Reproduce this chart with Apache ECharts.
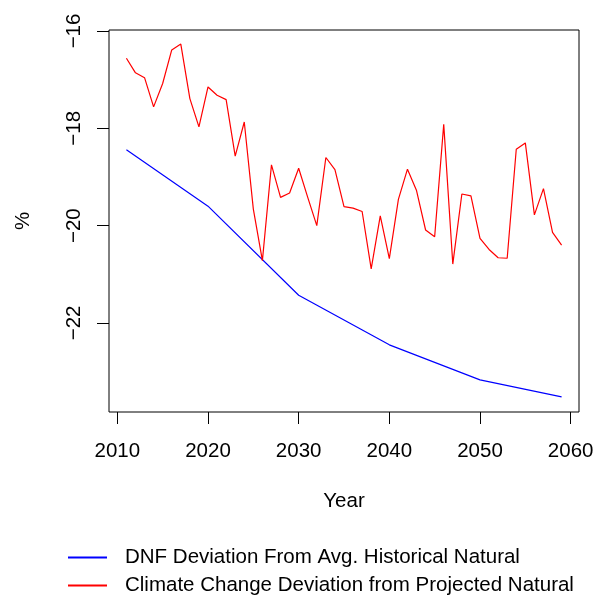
<!DOCTYPE html>
<html>
<head>
<meta charset="utf-8">
<script src="https://cdn.jsdelivr.net/npm/echarts@6/dist/echarts.min.js"></script>
<style>
html,body{margin:0;padding:0;background:#fff;}
#chart{width:597px;height:598px;}
</style>
</head>
<body>
<div id="chart"></div>
<script>
// ---- data ----
const years = [2011,2012,2013,2014,2015,2016,2017,2018,2019,2020,
               2021,2022,2023,2024,2025,2026,2027,2028,2029,2030,
               2031,2032,2033,2034,2035,2036,2037,2038,2039,2040,
               2041,2042,2043,2044,2045,2046,2047,2048,2049,2050,
               2051,2052,2053,2054,2055,2056,2057,2058,2059];
const climateDev = [-16.56,-16.86,-16.96,-17.56,-17.08,-16.39,-16.27,-17.39,-17.97,-17.15,
                    -17.32,-17.41,-18.57,-17.87,-19.66,-20.72,-18.75,-19.42,-19.33,-18.82,
                    -19.42,-20.00,-18.60,-18.85,-19.61,-19.64,-19.71,-20.89,-19.80,-20.68,
                    -19.46,-18.84,-19.28,-20.09,-20.23,-17.92,-20.79,-19.35,-19.39,-20.26,
                    -20.49,-20.66,-20.67,-18.43,-18.30,-19.78,-19.24,-20.14,-20.40];
const dnfYears = [2011,2020,2030,2040,2050,2059];
const dnfDev = [-18.44,-19.60,-21.43,-22.45,-23.17,-23.52];
const xTicks = [2010,2020,2030,2040,2050,2060];
const yTicks = [-22,-20,-18,-16];
const seriesNames = ['DNF Deviation From Avg. Historical Natural','Climate Change Deviation from Projected Natural'];

const font = 'Liberation Sans, Arial, Helvetica, sans-serif';
const fs = 20.5;
const chart = echarts.init(document.getElementById('chart'), null, {renderer:'canvas'});
chart.setOption({
  animation:false,
  backgroundColor:'#fff',
  grid:{left:109, top:30, right:18, bottom:186, show:true, borderColor:'#000', borderWidth:1, backgroundColor:'transparent'},
  xAxis:{
    type:'value', min:2009.08, max:2060.92,
    name:'Year', nameLocation:'middle', nameGap:79,
    nameTextStyle:{fontFamily:font, fontSize:fs, color:'#000'},
    axisLine:{show:false},
    axisTick:{show:true, customValues:xTicks, length:12, inside:false, lineStyle:{color:'#000', width:1}},
    axisLabel:{customValues:xTicks, margin:29, fontFamily:font, fontSize:fs, color:'#000',
      formatter:v => String(v)},
    splitLine:{show:false}
  },
  yAxis:{
    type:'value', min:-23.83, max:-15.98,
    name:'%', nameLocation:'middle', nameGap:75, nameRotate:90,
    nameTextStyle:{fontFamily:font, fontSize:fs, color:'#000'},
    axisLine:{show:false},
    axisTick:{show:true, customValues:yTicks, length:12, inside:false, lineStyle:{color:'#000', width:1}},
    axisLabel:{customValues:yTicks, rotate:90, margin:24, fontFamily:font, fontSize:fs, color:'#000',
      formatter:v => String(v).replace('-', '\u2212')},
    splitLine:{show:false}
  },
  legend:{
    orient:'vertical', left:67, top:547, padding:0,
    itemWidth:39, itemHeight:19, itemGap:7,
    itemStyle:{opacity:0},
    textStyle:{fontFamily:font, fontSize:fs, lineHeight:19, color:'#000', padding:[0,0,0,13]},
    data:seriesNames
  },
  series:[
    {name:seriesNames[0], type:'line', symbol:'none', lineStyle:{color:'#0000ff', width:1.2}, itemStyle:{color:'#0000ff'},
     data:dnfYears.map((y,i)=>[y,dnfDev[i]])},
    {name:seriesNames[1], type:'line', symbol:'none', lineStyle:{color:'#ff0000', width:1.2}, itemStyle:{color:'#ff0000'},
     data:years.map((y,i)=>[y,climateDev[i]])}
  ]
});
</script>
</body>
</html>
